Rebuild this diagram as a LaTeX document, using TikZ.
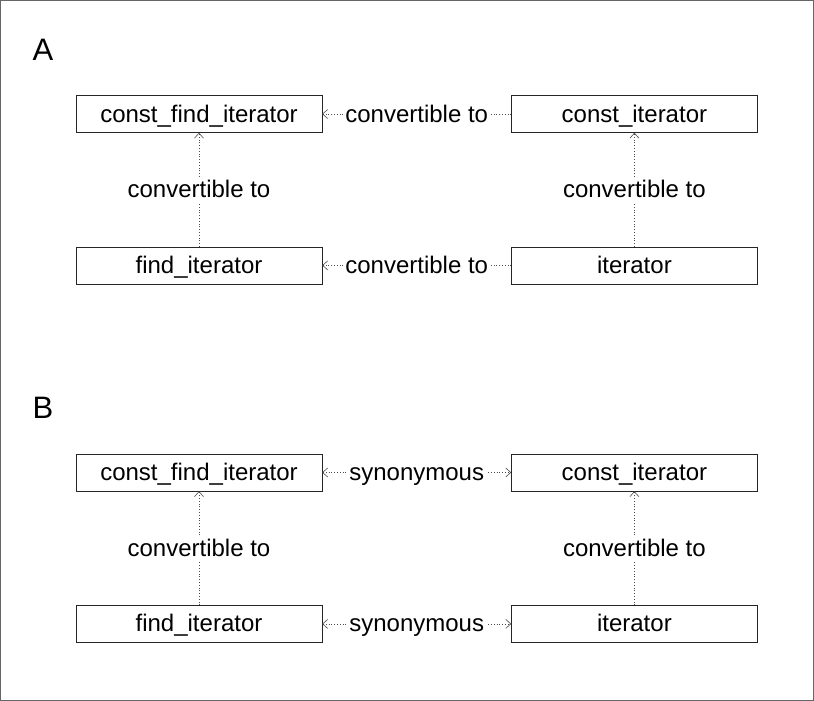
\documentclass[tikz,border=0pt]{standalone}
\usepackage{fontspec}
\setmainfont{Liberation Sans}
\usetikzlibrary{positioning,arrows.meta}

\begin{document}
\begin{tikzpicture}[x=1pt,y=-1pt,
box/.style={draw=black!85,rectangle,minimum width=246pt,minimum height=37pt,inner sep=0pt,
    text height=19pt,text depth=3pt,font=\fontsize{24}{28}\selectfont},
rel/.style={draw=black!70,dotted,line width=.8pt},
tip/.style={-{Straight Barb[length=5pt,width=9pt,line width=.6pt]}},
bothtip/.style={{Straight Barb[length=5pt,width=9pt,line width=.6pt]}-{Straight Barb[length=5pt,width=9pt,line width=.6pt]}},
lbl/.style={fill=white,inner sep=2pt,text height=19pt,text depth=3pt,font=\fontsize{24}{28}\selectfont},
panel/.style={font=\fontsize{31}{36}\selectfont}]
\useasboundingbox (0,0) rectangle (814,701);
\draw[black!60,line width=1pt] (0.5,0.5) rectangle (813.5,700.5);

% part A
\node (titleA) [panel] at (43,50) {A};
\node (cfiA) [box] at (199,114) {const\_find\_iterator};
\node (ciA) [box,right=189pt of cfiA] {const\_iterator};
\node (fiA) [box,below=114pt of cfiA] {find\_iterator};
\node (itA) [box,right=189pt of fiA] {iterator};

\draw [rel,tip] (ciA) -- node [lbl] {convertible to} (cfiA);
\draw [rel,tip] (itA) -- node [lbl] {convertible to} (fiA);
\draw [rel,tip] (fiA) -- node [lbl] {convertible to} (cfiA);
\draw [rel,tip] (itA) -- node [lbl] {convertible to} (ciA);

% part B
\node (titleB) [panel] at (43,408) {B};
\node (cfiB) [box] at (199,472.5) {const\_find\_iterator};
\node (ciB) [box,right=189pt of cfiB] {const\_iterator};
\node (fiB) [box,below=114pt of cfiB] {find\_iterator};
\node (itB) [box,right=189pt of fiB] {iterator};

\draw [rel,bothtip] (cfiB) -- node [lbl] {synonymous} (ciB);
\draw [rel,bothtip] (fiB) -- node [lbl] {synonymous} (itB);
\draw [rel,tip] (fiB) -- node [lbl] {convertible to} (cfiB);
\draw [rel,tip] (itB) -- node [lbl] {convertible to} (ciB);
\end{tikzpicture}
\end{document}
